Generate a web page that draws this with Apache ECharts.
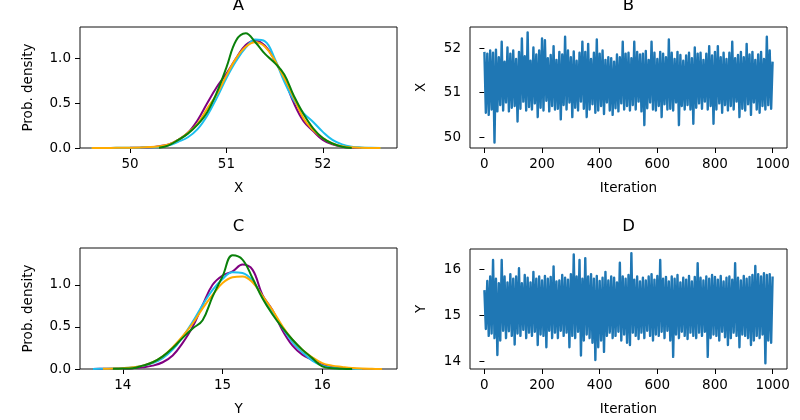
<!DOCTYPE html>
<html><head><meta charset="utf-8">
<script src="https://cdn.jsdelivr.net/npm/echarts@6/dist/echarts.min.js"></script>
<style>html,body{margin:0;padding:0;background:#fff}#c{width:800px;height:420px}</style>
</head><body><div id="c"></div>
<script>
// KDE grid for panel A (X) and panel C (Y)
const xA = [49.6,49.7,49.8,49.9,50.0,50.1,50.2,50.3,50.4,50.5,50.6,50.7,50.8,50.9,51.0,51.1,51.2,51.3,51.4,51.5,51.6,51.7,51.8,51.9,52.0,52.1,52.2,52.3,52.4,52.5,52.6];
const purpleA = [null,null,null,null,0.002,0.004,0.008,0.02,0.04,0.09,0.17,0.31,0.50,0.68,0.83,1.00,1.15,1.20,1.14,0.98,0.77,0.50,0.30,0.19,0.09,0.04,0.015,0.005,0,null,null];
const cyanA = [0.001,0.001,0.001,0.002,0.002,0.004,0.007,0.012,0.03,0.07,0.12,0.21,0.36,0.56,0.78,0.97,1.12,1.21,1.19,1.00,0.74,0.53,0.39,0.29,0.18,0.09,0.04,0.015,0.006,0.002,0];
const orangeA = [0,0.001,0.001,0.002,0.003,0.005,0.01,0.02,0.04,0.09,0.17,0.27,0.44,0.60,0.81,1.00,1.13,1.18,1.13,0.98,0.78,0.56,0.33,0.20,0.11,0.05,0.02,0.008,0.003,0.001,0];
const greenA = [null,null,null,null,null,null,null,0.003,0.03,0.09,0.16,0.26,0.40,0.62,0.90,1.20,1.28,1.18,1.05,0.95,0.82,0.58,0.38,0.22,0.11,0.05,0.015,0,null,null,null];

const xC = [13.7,13.8,13.9,14.0,14.1,14.2,14.3,14.4,14.5,14.6,14.7,14.8,14.9,15.0,15.1,15.2,15.3,15.4,15.5,15.6,15.7,15.8,15.9,16.0,16.1,16.2,16.3,16.4,16.5,16.6];
const purpleC = [0.001,0.002,0.004,0.006,0.01,0.02,0.04,0.08,0.16,0.31,0.50,0.76,1.00,1.11,1.16,1.24,1.18,0.88,0.70,0.46,0.28,0.17,0.11,0.05,0.02,0.008,0.003,0,null,null];
const cyanC = [0.001,0.003,0.005,0.01,0.02,0.04,0.07,0.13,0.23,0.38,0.56,0.76,0.94,1.07,1.15,1.14,1.05,0.86,0.67,0.49,0.32,0.20,0.10,0.04,0.015,0.005,0.002,0,null,null];
const orangeC = [null,0.002,0.005,0.01,0.02,0.04,0.08,0.15,0.26,0.39,0.54,0.72,0.88,1.02,1.09,1.10,1.03,0.87,0.70,0.51,0.35,0.23,0.14,0.07,0.04,0.025,0.012,0.005,0.002,0];
const greenC = [null,null,0.002,0.005,0.01,0.04,0.08,0.15,0.25,0.37,0.48,0.58,0.86,1.10,1.35,1.30,1.08,0.84,0.65,0.49,0.35,0.23,0.13,0.03,0.01,0.003,0,null,null,null];

// Trace samples (every 5th iteration)
const iterations = Array.from({length: 201}, (_, i) => i * 5);
const traceX = [
51.92,50.55,51.88,50.50,51.95,50.62,51.90,49.88,51.97,50.58,
51.80,50.72,52.15,50.60,51.70,50.78,52.02,50.58,51.88,50.66,
51.95,50.70,51.76,50.35,51.92,50.64,52.22,50.80,51.82,50.60,
52.36,50.68,51.72,50.62,52.02,50.76,51.86,50.45,51.95,50.66,
52.22,50.60,52.18,50.82,51.78,50.58,51.85,50.70,52.05,50.62,
51.74,50.64,51.92,50.40,51.86,50.72,52.26,50.62,51.95,50.78,
51.80,50.45,51.93,50.66,51.72,50.60,51.90,50.80,52.15,50.64,
51.92,50.45,52.10,50.62,51.76,50.74,51.90,50.55,52.20,50.60,
51.88,50.70,51.95,50.52,51.74,50.78,51.80,50.60,51.78,50.50,
51.70,50.65,51.86,50.58,51.80,50.76,52.15,50.62,51.88,50.70,
51.90,50.60,51.78,50.72,52.15,50.62,51.92,50.80,51.86,50.58,
51.88,50.27,51.94,50.65,51.74,50.78,52.15,50.62,51.90,50.60,
51.76,50.70,51.92,50.45,51.88,50.74,51.80,50.62,52.20,50.64,
51.90,50.60,51.76,50.78,51.92,50.27,51.85,50.70,51.72,50.62,
51.84,50.72,51.90,50.62,51.78,50.30,52.02,50.66,51.88,50.76,
51.90,50.64,51.74,50.80,51.88,50.62,52.05,50.70,51.84,50.30,
51.92,50.62,52.05,50.76,51.80,50.55,51.90,50.72,51.76,50.60,
51.90,50.70,52.15,50.62,51.78,50.80,51.85,50.45,51.92,50.64,
51.80,50.60,52.10,50.74,51.86,50.50,51.92,50.78,51.74,50.62,
51.86,50.55,51.92,50.70,51.76,50.62,52.26,50.72,51.95,50.64,
51.70];
const traceY = [
15.55,14.70,15.75,14.55,15.85,14.60,16.21,14.50,15.80,14.13,
15.70,14.45,16.21,14.66,15.85,14.50,15.72,14.65,15.90,14.55,
15.80,14.36,15.85,14.60,16.03,14.55,15.70,14.68,15.88,14.50,
15.82,14.62,15.72,14.55,15.95,14.64,15.80,14.35,15.85,14.58,
15.76,14.55,15.86,14.30,15.80,14.66,15.84,14.50,16.07,14.62,
15.74,14.50,15.76,14.66,15.88,14.55,15.82,14.62,15.78,14.30,
15.90,14.55,16.33,14.50,15.85,14.64,16.21,14.12,15.80,14.45,
16.25,14.58,15.85,14.50,15.90,14.40,15.80,14.02,15.86,14.30,
15.75,14.45,15.82,14.20,15.95,14.55,15.76,14.62,15.85,14.50,
15.82,14.55,15.72,14.64,16.15,14.45,15.85,14.58,15.80,14.40,
15.88,14.35,16.36,14.62,15.78,14.55,15.85,14.48,15.74,14.62,
15.82,14.50,15.76,14.66,15.85,14.55,15.90,14.45,15.78,14.58,
15.86,14.55,16.21,14.64,15.80,14.50,15.84,14.66,15.74,14.45,
15.85,14.09,15.80,14.58,15.88,14.50,15.72,14.64,15.82,14.55,
15.78,14.48,15.86,14.62,15.74,14.55,15.84,14.50,16.14,14.62,
15.82,14.55,15.76,14.64,15.85,14.09,15.80,14.50,15.88,14.58,
15.84,14.55,15.78,14.45,15.86,14.64,15.74,14.52,15.82,14.35,
15.85,14.50,15.78,14.62,16.14,14.55,15.82,14.30,15.76,14.58,
15.86,14.55,15.80,14.50,15.84,14.35,15.88,14.45,16.08,14.55,
15.90,14.50,15.85,14.58,15.92,13.95,15.88,14.45,15.90,14.40,
15.85];

const ticksA_x = [50, 51, 52];
const ticksC_x = [14, 15, 16];
const ticksKde_y = [0, 0.5, 1.0];
const ticksIter = [0, 200, 400, 600, 800, 1000];
const ticksB_y = [50, 51, 52];
const ticksD_y = [14, 15, 16];

const colors = {purple: '#800080', cyan: '#1cbfee', orange: '#ffab00', green: '#0a800a', trace: '#1f77b4'};
const FONT = 'DejaVu Sans';
const zip = (xs, ys) => xs.map((x, i) => [x, ys[i]]);

const grids = [
  {left: 80, top: 27, width: 317, height: 121},
  {left: 470, top: 27, width: 317, height: 121},
  {left: 80, top: 248, width: 317, height: 121},
  {left: 470, top: 249, width: 317, height: 120}
].map(g => Object.assign({show: true, borderColor: '#111', borderWidth: 1, containLabel: false}, g));

function axisDef(gi, min, max, ticks, name, fmt, gap) {
  return {
    type: 'value', gridIndex: gi, min: min, max: max,
    name: name, nameLocation: 'middle', nameGap: gap,
    nameTextStyle: {fontFamily: FONT, fontSize: 13.5, color: '#000'},
    axisLine: {show: false},
    axisTick: {show: true, length: 5, inside: false, customValues: ticks, lineStyle: {color: '#000'}},
    axisLabel: {show: true, customValues: ticks, margin: 9, fontFamily: FONT, fontSize: 13.5, color: '#000', formatter: fmt},
    splitLine: {show: false}
  };
}
const f1 = v => v.toFixed(1);
const f0 = v => String(Math.round(v));

function kde(gi, xs, ys, color) {
  return {type: 'line', xAxisIndex: gi, yAxisIndex: gi, data: zip(xs, ys), smooth: 0.4,
    showSymbol: false, symbol: 'none', connectNulls: false, clip: true,
    lineStyle: {color: color, width: 2}, itemStyle: {color: color}, silent: true, animation: false};
}
function trace(gi, ys) {
  return {type: 'line', xAxisIndex: gi, yAxisIndex: gi, data: zip(iterations, ys),
    showSymbol: false, symbol: 'none', sampling: null, clip: true, progressive: 0,
    lineStyle: {color: colors.trace, width: 2.4, join: 'round'}, silent: true, animation: false};
}

const titleStyle = {fontFamily: FONT, fontSize: 16.5, fontWeight: 'normal', color: '#000'};
const option = {
  animation: false,
  backgroundColor: '#fff',
  title: [
    {text: 'A', left: 238.5, top: -3, textAlign: 'center', padding: 0, textStyle: titleStyle},
    {text: 'B', left: 628.5, top: -3, textAlign: 'center', padding: 0, textStyle: titleStyle},
    {text: 'C', left: 238.5, top: 218, textAlign: 'center', padding: 0, textStyle: titleStyle},
    {text: 'D', left: 628.5, top: 218, textAlign: 'center', padding: 0, textStyle: titleStyle}
  ],
  grid: grids,
  xAxis: [
    axisDef(0, 49.48, 52.77, ticksA_x, 'X', f0, 33),
    axisDef(1, -50, 1050, ticksIter, 'Iteration', f0, 33),
    axisDef(2, 13.57, 16.75, ticksC_x, 'Y', f0, 33),
    axisDef(3, -50, 1050, ticksIter, 'Iteration', f0, 33)
  ],
  yAxis: [
    axisDef(0, 0, 1.35, ticksKde_y, 'Prob. density', f1, 45),
    axisDef(1, 49.755, 52.48, ticksB_y, 'X', f0, 42),
    axisDef(2, 0, 1.437, ticksKde_y, 'Prob. density', f1, 45),
    axisDef(3, 13.825, 16.45, ticksD_y, 'Y', f0, 42)
  ],
  series: [
    kde(0, xA, purpleA, colors.purple),
    kde(0, xA, cyanA, colors.cyan),
    kde(0, xA, orangeA, colors.orange),
    kde(0, xA, greenA, colors.green),
    trace(1, traceX),
    kde(2, xC, purpleC, colors.purple),
    kde(2, xC, cyanC, colors.cyan),
    kde(2, xC, orangeC, colors.orange),
    kde(2, xC, greenC, colors.green),
    trace(3, traceY)
  ]
};
const chart = echarts.init(document.getElementById('c'), null, {renderer: 'canvas'});
chart.setOption(option);
</script></body></html>
